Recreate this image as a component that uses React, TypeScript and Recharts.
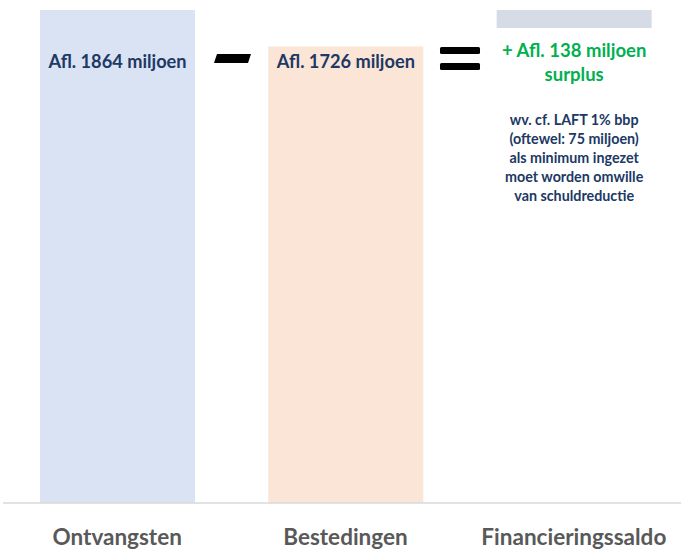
import { BarChart, Bar, XAxis, YAxis, Cell, LabelList } from 'recharts';

const categories = ['Ontvangsten', 'Bestedingen', 'Financieringssaldo'];
const lowValues = [0, 0, 1796];
const highValues = [1864, 1726, 1864];
const barColors = ['#dae3f3', '#fbe5d6', '#d6dce5'];
const amountLabels = ['Afl. 1864 miljoen', 'Afl. 1726 miljoen', '+ Afl. 138 miljoen'];
const noteLines = [
    'wv. cf. LAFT 1% bbp',
    '(oftewel: 75 miljoen)',
    'als minimum ingezet',
    'moet worden omwille',
    'van schuldreductie',
];

const data = categories.map((name, i) => ({
    name,
    range: [lowValues[i], highValues[i]],
}));

const font = 'Lato, "Open Sans", sans-serif';

function AmountLabel(props: any) {
    const { viewBox, index } = props;
    const cx = viewBox.x + viewBox.width / 2;
    if (index === 2) {
        return (
            <g fontFamily={font} fontWeight={700} textAnchor="middle">
                <text x={cx} y={51} dy="0.35em" fontSize={18.5} fill="#00b050">{amountLabels[index]}</text>
                <text x={cx} y={75} dy="0.35em" fontSize={18.5} fill="#00b050">surplus</text>
                {noteLines.map((line, i) => (
                    <text key={i} x={cx} y={120 + i * 19} dy="0.35em" fontSize={14.3} fill="#203864">{line}</text>
                ))}
            </g>
        );
    }
    return (
        <text x={cx} y={62} dy="0.35em" textAnchor="middle" fontFamily={font} fontWeight={700} fontSize={18.2} fill="#203864">
            {amountLabels[index]}
        </text>
    );
}

function CategoryTick(props: any) {
    const { x, payload } = props;
    return (
        <text x={x} y={537} dy="0.35em" textAnchor="middle" fontFamily={font} fontWeight={700} fontSize={22.5} fill="#595959">
            {payload.value}
        </text>
    );
}

export default function App() {
    return (
        <div style={{ position: 'absolute', left: 0, top: 0, width: 681, height: 550, background: '#fff' }}>
            <BarChart width={681} height={550} data={data} margin={{ top: 10, right: -7, bottom: 0, left: 3 }}>
                <XAxis
                    dataKey="name"
                    height={47}
                    axisLine={{ stroke: '#d9d9d9', strokeWidth: 1.5 }}
                    tickLine={false}
                    tick={<CategoryTick />}
                    interval={0}
                />
                <YAxis hide domain={[0, 1864]} />
                <Bar dataKey="range" barSize={155} isAnimationActive={false}>
                    {data.map((d, i) => (
                        <Cell key={d.name} fill={barColors[i]} />
                    ))}
                    <LabelList dataKey="range" content={<AmountLabel />} />
                </Bar>
            </BarChart>
            <svg width={681} height={550} style={{ position: 'absolute', left: 0, top: 0, pointerEvents: 'none' }}>
                <polygon points="217,54 251,54 248,63 214,63" fill="#000" />
                <rect x={440} y={47} width={40} height={7} rx={1.5} fill="#000" />
                <rect x={440} y={63} width={40} height={7} rx={1.5} fill="#000" />
            </svg>
        </div>
    );
}
